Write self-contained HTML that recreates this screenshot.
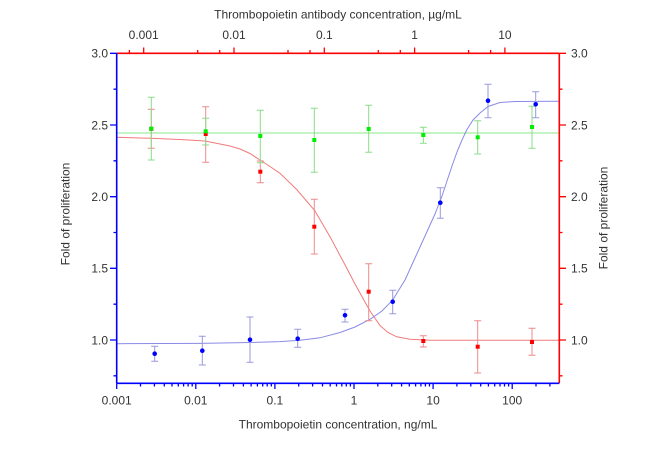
<!DOCTYPE html>
<html>
<head>
<meta charset="utf-8">
<style>
html,body{margin:0;padding:0;background:#fff;}
svg{display:block;}
text{font-family:"Liberation Sans",Arial,sans-serif;font-size:12px;fill:#333;}
</style>
</head>
<body>
<svg width="650" height="460" viewBox="0 0 650 460" xmlns="http://www.w3.org/2000/svg">
<rect width="650" height="460" fill="#fff"/>

<!-- fit lines -->
<line x1="116.7" y1="133" x2="559.3" y2="133" stroke="#88e888" stroke-width="1"/>
<polyline fill="none" stroke="#f07a7a" stroke-width="1" points="116.7,137.3 150,138.3 180,139.5 205,141 230,146 240,149 250,153.5 260,160 270,166.5 280,173.3 296.7,189.5 314.7,210.5 330,236.7 346.7,268 355,284 363.3,299 370,311 380,325.5 388,332.5 396.7,336.8 410,339.3 430,340.2 559.3,340.3"/>
<polyline fill="none" stroke="#8a8ae6" stroke-width="1" points="116.7,343.7 200,343.4 250,342.5 280,341.6 300,340.2 320,337.8 340,332.5 355,327 370,319.3 382,311 392.7,300 405,280 415,258 425,236 435,214 442,196 447,181 452,166 457,152 462,140 466.7,130 473,120 480,113 488,106.5 500,102.5 515,101.5 559.3,101.3"/>

<!-- error bars: red -->
<path fill="none" stroke="#ee8a8a" stroke-width="1" d="
M151.3,109.3V148.3M147.8,109.3H154.8M147.8,148.3H154.8
M205.7,106.7V162.3M202.2,106.7H209.2M202.2,162.3H209.2
M260.3,161V182.7M256.8,161H263.8M256.8,182.7H263.8
M314.3,199.3V254M310.8,199.3H317.8M310.8,254H317.8
M368.7,263.7V320.7M365.2,263.7H372.2M365.2,320.7H372.2
M423.3,335.7V347M419.8,335.7H426.8M419.8,347H426.8
M477.7,320.7V373M474.2,320.7H481.2M474.2,373H481.2
M532,328.3V355.3M528.5,328.3H535.5M528.5,355.3H535.5"/>
<!-- error bars: green -->
<path fill="none" stroke="#88dd88" stroke-width="1" d="
M151.3,97.3V160M147.8,97.3H154.8M147.8,160H154.8
M205.7,118.3V145M202.2,118.3H209.2M202.2,145H209.2
M260.3,110.3V162.7M256.8,110.3H263.8M256.8,162.7H263.8
M314.3,108.3V172.3M310.8,108.3H317.8M310.8,172.3H317.8
M368.7,105.3V152.3M365.2,105.3H372.2M365.2,152.3H372.2
M423.3,127.3V143.3M419.8,127.3H426.8M419.8,143.3H426.8
M477.7,120.7V154M474.2,120.7H481.2M474.2,154H481.2
M532,106.3V148.3M528.5,106.3H535.5M528.5,148.3H535.5"/>
<!-- error bars: blue -->
<path fill="none" stroke="#9999dd" stroke-width="1" d="
M154.7,346.3V361.3M151.2,346.3H158.2M151.2,361.3H158.2
M202.3,336.3V365M198.8,336.3H205.8M198.8,365H205.8
M250,317V362.3M246.5,317H253.5M246.5,362.3H253.5
M297.7,329.3V347.3M294.2,329.3H301.2M294.2,347.3H301.2
M345,309.3V322M341.5,309.3H348.5M341.5,322H348.5
M392.7,290.3V313.7M389.2,290.3H396.2M389.2,313.7H396.2
M440.3,187.7V218.3M436.8,187.7H443.8M436.8,218.3H443.8
M488,84.3V117.7M484.5,84.3H491.5M484.5,117.7H491.5
M535.7,91.7V117.7M532.2,91.7H539.2M532.2,117.7H539.2"/>

<!-- red squares -->
<g fill="#ff0000">
<rect x="149.3" y="126.8" width="4" height="4"/>
<rect x="203.7" y="132" width="4" height="4"/>
<rect x="258.3" y="169.7" width="4" height="4"/>
<rect x="312.3" y="224.7" width="4" height="4"/>
<rect x="366.7" y="289.7" width="4" height="4"/>
<rect x="421.3" y="339" width="4" height="4"/>
<rect x="475.7" y="344.7" width="4" height="4"/>
<rect x="530" y="340" width="4" height="4"/>
</g>
<!-- green squares -->
<g fill="#00ee00">
<rect x="149.3" y="126.7" width="4" height="4"/>
<rect x="203.7" y="129.3" width="4" height="4"/>
<rect x="258.3" y="134" width="4" height="4"/>
<rect x="312.3" y="138" width="4" height="4"/>
<rect x="366.7" y="127" width="4" height="4"/>
<rect x="421.3" y="133" width="4" height="4"/>
<rect x="475.7" y="135.3" width="4" height="4"/>
<rect x="530" y="125" width="4" height="4"/>
</g>
<!-- blue circles -->
<g fill="#0000ff">
<circle cx="154.7" cy="353.7" r="2.3"/>
<circle cx="202.3" cy="350.7" r="2.3"/>
<circle cx="250" cy="339.7" r="2.3"/>
<circle cx="297.7" cy="338.7" r="2.3"/>
<circle cx="345" cy="315.3" r="2.3"/>
<circle cx="392.7" cy="301.7" r="2.3"/>
<circle cx="440.3" cy="202.7" r="2.3"/>
<circle cx="488" cy="100.7" r="2.3"/>
<circle cx="535.7" cy="104.3" r="2.3"/>
</g>

<!-- axes -->
<g stroke-width="1.6" fill="none">
<path stroke="#ff0000" d="M116.7,53.3H559.3M559.3,53.3V383.3"/>
<path stroke="#0000ff" d="M116.7,53.3V383.3M116.7,383.3H559.3"/>
</g>
<!-- left ticks -->
<path stroke="#0000ff" stroke-width="1.3" fill="none" d="
M110,53.3H116.7M110,125H116.7M110,196.7H116.7M110,268.3H116.7M110,340H116.7
M113.5,89.2H116.7M113.5,160.8H116.7M113.5,232.5H116.7M113.5,304.2H116.7M113.5,375.8H116.7"/>
<!-- right ticks -->
<path stroke="#ff0000" stroke-width="1.3" fill="none" d="
M559.3,53.3H566M559.3,125H566M559.3,196.7H566M559.3,268.3H566M559.3,340H566
M559.3,89.2H562.5M559.3,160.8H562.5M559.3,232.5H562.5M559.3,304.2H562.5M559.3,375.8H562.5"/>
<!-- bottom ticks -->
<path stroke="#0000ff" stroke-width="1.3" fill="none" d="
M116.7,383.3V389M195.8,383.3V389M274.9,383.3V389M354,383.3V389M433.1,383.3V389M512.2,383.3V389
M140.5,383.3V386.5M154.4,383.3V386.5M164.3,383.3V386.5M172,383.3V386.5M178.3,383.3V386.5M183.6,383.3V386.5M188.1,383.3V386.5M192.2,383.3V386.5
M219.6,383.3V386.5M233.5,383.3V386.5M243.4,383.3V386.5M251.1,383.3V386.5M257.4,383.3V386.5M262.7,383.3V386.5M267.2,383.3V386.5M271.3,383.3V386.5
M298.7,383.3V386.5M312.6,383.3V386.5M322.5,383.3V386.5M330.2,383.3V386.5M336.5,383.3V386.5M341.8,383.3V386.5M346.3,383.3V386.5M350.4,383.3V386.5
M377.8,383.3V386.5M391.7,383.3V386.5M401.6,383.3V386.5M409.3,383.3V386.5M415.6,383.3V386.5M420.9,383.3V386.5M425.4,383.3V386.5M429.5,383.3V386.5
M456.9,383.3V386.5M470.8,383.3V386.5M480.7,383.3V386.5M488.4,383.3V386.5M494.7,383.3V386.5M500,383.3V386.5M504.5,383.3V386.5M508.6,383.3V386.5
M536,383.3V386.5M549.9,383.3V386.5"/>
<!-- top ticks -->
<path stroke="#ff0000" stroke-width="1.3" fill="none" d="
M143.7,53.3V47.5M234,53.3V47.5M324.3,53.3V47.5M414.6,53.3V47.5M504.9,53.3V47.5
M129.4,53.3V50M197.7,53.3V50M219.7,53.3V50M288,53.3V50M310,53.3V50M378.3,53.3V50M400.3,53.3V50M468.6,53.3V50M490.6,53.3V50"/>

<!-- labels -->
<text x="338" y="18.5" text-anchor="middle">Thrombopoietin antibody concentration, µg/mL</text>
<g text-anchor="middle">
<text x="143.7" y="39">0.001</text>
<text x="234" y="39">0.01</text>
<text x="324.3" y="39">0.1</text>
<text x="414.6" y="39">1</text>
<text x="504.9" y="39">10</text>
<text x="116.7" y="404.5">0.001</text>
<text x="195.8" y="404.5">0.01</text>
<text x="274.9" y="404.5">0.1</text>
<text x="354" y="404.5">1</text>
<text x="433.1" y="404.5">10</text>
<text x="512.2" y="404.5">100</text>
</g>
<text x="338" y="428.5" text-anchor="middle">Thrombopoietin concentration, ng/mL</text>
<g text-anchor="end">
<text x="108" y="57.6">3.0</text>
<text x="108" y="129.3">2.5</text>
<text x="108" y="201">2.0</text>
<text x="108" y="272.6">1.5</text>
<text x="108" y="344.3">1.0</text>
</g>
<g text-anchor="start">
<text x="571" y="57.6">3.0</text>
<text x="571" y="129.3">2.5</text>
<text x="571" y="201">2.0</text>
<text x="571" y="272.6">1.5</text>
<text x="571" y="344.3">1.0</text>
</g>
<text transform="translate(69.3,214) rotate(-90)" text-anchor="middle">Fold of proliferation</text>
<text transform="translate(607.5,218) rotate(-90)" text-anchor="middle">Fold of proliferation</text>
</svg>
</body>
</html>
